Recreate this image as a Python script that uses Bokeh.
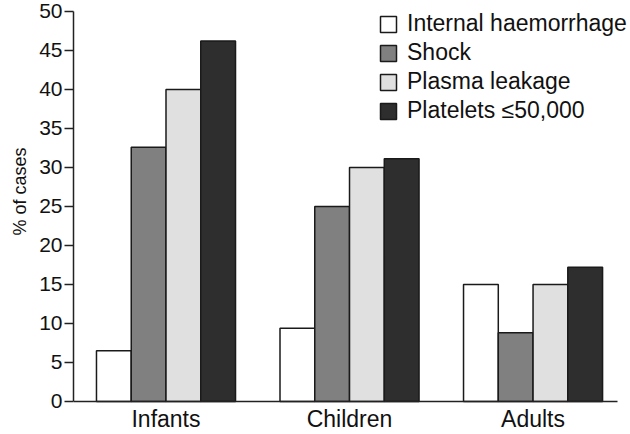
from bokeh.plotting import figure
from bokeh.models import Range1d, FixedTicker, ColumnDataSource, Legend, LegendItem, Title
from bokeh.transform import dodge
from bokeh.embed import file_html
from bokeh.resources import INLINE

groups = ["Infants", "Children", "Adults"]
series = ["Internal haemorrhage", "Shock", "Plasma leakage", "Platelets \u226450,000"]
internal_haemorrhage = [6.5, 9.4, 15.0]
shock = [32.6, 25.0, 8.8]
plasma_leakage = [40.0, 30.0, 15.0]
platelets = [46.2, 31.1, 17.2]
y_ticks = [0, 5, 10, 15, 20, 25, 30, 35, 40, 45, 50]
y_label = "% of cases"

colors = ["#ffffff", "#808080", "#e0e0e0", "#2e2e2e"]
values = [internal_haemorrhage, shock, plasma_leakage, platelets]

FONT = "Liberation Sans"
xpos = list(range(len(groups)))
src = ColumnDataSource(dict(x=xpos, s0=values[0], s1=values[1], s2=values[2], s3=values[3]))

# frame fills the canvas except the left axis; axis lines limited with bounds,
# x axis fixed at y = 0 so its labels sit in the space below the bars
p = figure(width=630, height=434, output_backend="svg", toolbar_location=None,
           x_range=Range1d(-0.504, 2.531), y_range=Range1d(-4.23, 51.4),
           min_border_left=73, min_border_right=0, min_border_top=0, min_border_bottom=0)
p.outline_line_color = None
p.xgrid.visible = False
p.ygrid.visible = False
p.background_fill_color = "white"

w = 0.1894
items = []
for i, (name, col) in enumerate(zip(series, colors)):
    off = (i - 1.5) * w
    r = p.vbar(x=dodge("x", off), top=f"s{i}", bottom=0, width=w, source=src,
               fill_color=col, line_color="#1a1a1a", line_width=1.5)
    items.append(LegendItem(label=name, renderers=[r]))

legend = Legend(items=items, location=(305, 310), border_line_color=None,
                background_fill_alpha=0, padding=0, margin=0, spacing=2,
                glyph_width=20, glyph_height=20, label_standoff=9,
                label_text_font=FONT, label_text_font_size="23px",
                label_text_color="#111111")
p.add_layout(legend)

# y axis
p.yaxis.ticker = FixedTicker(ticks=y_ticks)
p.yaxis.bounds = (0, 50)
p.yaxis.major_label_text_font = FONT
p.yaxis.major_label_text_font_size = "21px"
p.yaxis.major_label_text_color = "#111111"
p.yaxis.major_label_standoff = 2
p.yaxis.major_tick_out = 9
p.yaxis.major_tick_in = 0
p.yaxis.minor_tick_out = 0
p.yaxis.minor_tick_in = 0
p.yaxis.axis_line_width = 1.5
p.yaxis.axis_line_color = "#222222"
p.yaxis.major_tick_line_width = 1.5
p.yaxis.major_tick_line_color = "#222222"

# y axis title, placed along the 0-50 part of the axis
ytitle = Title(text=y_label, align="left", offset=199, standoff=13,
               text_font=FONT, text_font_size="18px", text_font_style="normal",
               text_color="#111111")
p.add_layout(ytitle, "left")

# x axis
p.xaxis.fixed_location = 0
p.xaxis.ticker = FixedTicker(ticks=xpos)
p.xaxis.bounds = (-0.504, 2.46)
p.xaxis.major_label_overrides = {i: g for i, g in zip(xpos, groups)}
p.xaxis.major_label_text_font = FONT
p.xaxis.major_label_text_font_size = "23px"
p.xaxis.major_label_text_color = "#111111"
p.xaxis.major_label_standoff = 5
p.xaxis.major_tick_out = 0
p.xaxis.major_tick_in = 0
p.xaxis.minor_tick_out = 0
p.xaxis.minor_tick_in = 0
p.xaxis.axis_line_width = 1.5
p.xaxis.axis_line_color = "#222222"

open("out.html", "w").write(file_html(p, INLINE))
